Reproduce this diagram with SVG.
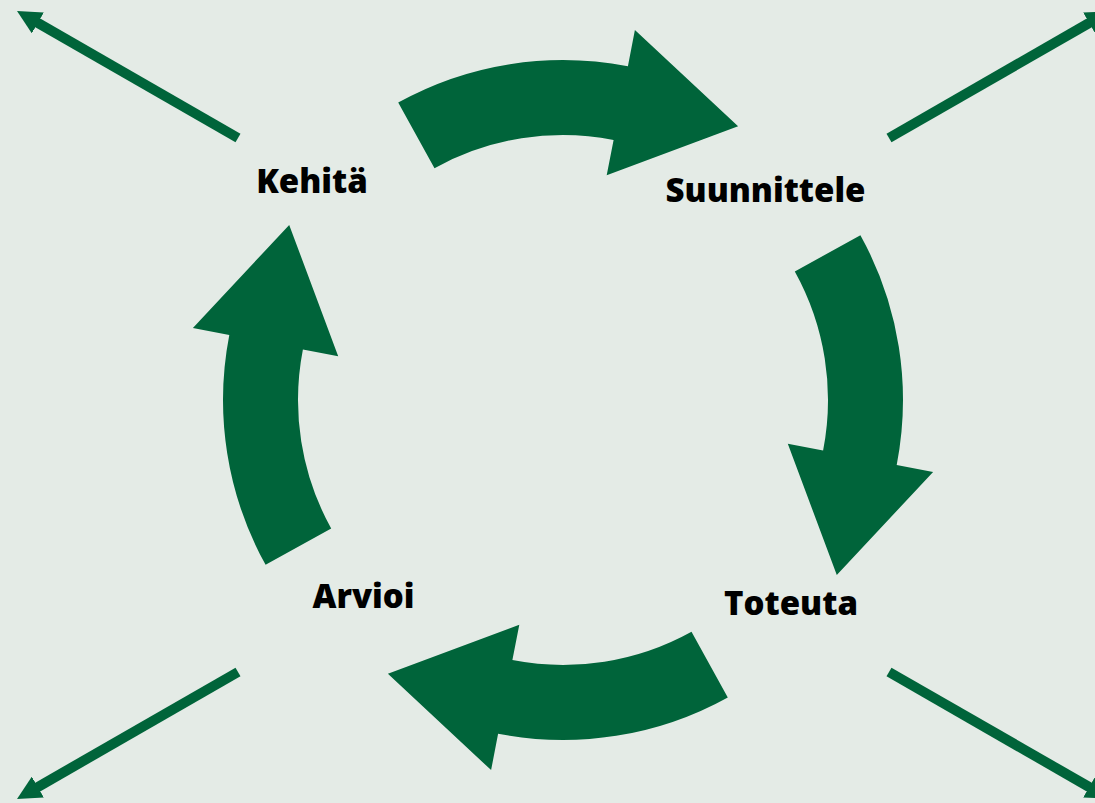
<svg xmlns="http://www.w3.org/2000/svg" width="1095" height="803" viewBox="0 0 1095 803">
<style>
.bg{fill:#e4ebe6}
.cyc{fill:#00643a}
.diag{stroke:#00643a;stroke-width:10;stroke-linecap:butt;fill:none}
.lbl{font-family:"Open Sans","Liberation Sans",sans-serif;font-weight:800;font-size:33px;fill:#000;text-anchor:middle}
</style>
<defs>
<marker id="ah" viewBox="0 0 10 10" refX="4" refY="5" markerWidth="2.4" markerHeight="2.4" markerUnits="strokeWidth" orient="auto">
<path d="M0,0 L10,5 L0,10 Z" fill="#00643a"/>
</marker>
<path id="arc" d="M 398.2 102.6 A 340 340 0 0 1 627.9 66.3 L 634.9 29.9 L 738.1 126.2 L 606.7 175.2 L 613.6 139.9 A 265 265 0 0 0 434.5 168.2 Z"/>
</defs>
<rect class="bg" x="0" y="0" width="1095" height="803"/>
<g id="connectors">
<use href="#arc" class="cyc"/>
<use href="#arc" class="cyc" transform="rotate(90 563 400)"/>
<use href="#arc" class="cyc" transform="rotate(180 563 400)"/>
<use href="#arc" class="cyc" transform="rotate(270 563 400)"/>
<line class="diag" x1="238" y1="138" x2="29.5" y2="18.2" marker-end="url(#ah)"/>
<line class="diag" x1="889" y1="138" x2="1097.5" y2="18.2" marker-end="url(#ah)"/>
<line class="diag" x1="238" y1="672" x2="29.5" y2="791.8" marker-end="url(#ah)"/>
<line class="diag" x1="889" y1="672" x2="1097.5" y2="791.8" marker-end="url(#ah)"/>
</g>
<g id="kehita"><text class="lbl" x="312" y="193">Kehitä</text></g>
<g id="suunnittele"><text class="lbl" x="765.5" y="201.5">Suunnittele</text></g>
<g id="toteuta"><text class="lbl" x="791" y="615">Toteuta</text></g>
<g id="arvioi"><text class="lbl" x="363.5" y="607.5">Arvioi</text></g>
</svg>
